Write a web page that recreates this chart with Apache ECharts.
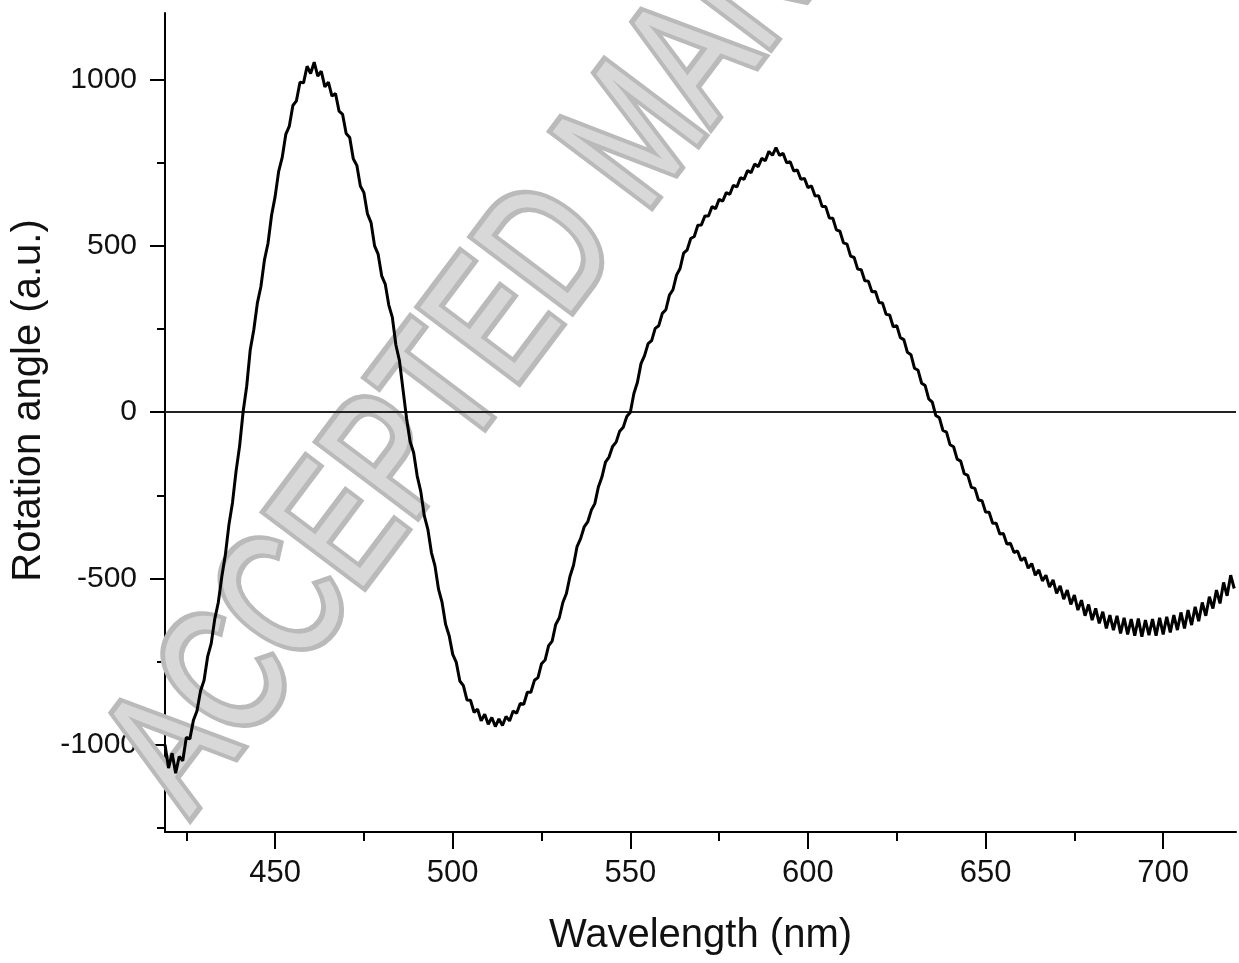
<!DOCTYPE html>
<html>
<head>
<meta charset="utf-8">
<script src="https://cdn.jsdelivr.net/npm/echarts@6/dist/echarts.min.js"></script>
<style>
html,body{margin:0;padding:0;background:#fff;}
#chart{width:1239px;height:963px;}
</style>
</head>
<body>
<div id="chart"></div>
<script>
// Wavelength (nm)
const wavelength = [
419,420,421,422,423,424,425,426,427,428,429,430,431,432,433,434,435,436,437,438,439,440,
441,442,443,444,445,446,447,448,449,450,451,452,453,454,455,456,457,458,459,460,
461,462,463,464,465,466,467,468,469,470,471,472,473,474,475,476,477,478,479,480,
481,482,483,484,485,486,487,488,489,490,491,492,493,494,495,496,497,498,499,500,
501,502,503,504,505,506,507,508,509,510,511,512,513,514,515,516,517,518,519,520,
521,522,523,524,525,526,527,528,529,530,531,532,533,534,535,536,537,538,539,540,
541,542,543,544,545,546,547,548,549,550,551,552,553,554,555,556,557,558,559,560,
561,562,563,564,565,566,567,568,569,570,571,572,573,574,575,576,577,578,579,580,
581,582,583,584,585,586,587,588,589,590,591,592,593,594,595,596,597,598,599,600,
601,602,603,604,605,606,607,608,609,610,611,612,613,614,615,616,617,618,619,620,
621,622,623,624,625,626,627,628,629,630,631,632,633,634,635,636,637,638,639,640,
641,642,643,644,645,646,647,648,649,650,651,652,653,654,655,656,657,658,659,660,
661,662,663,664,665,666,667,668,669,670,671,672,673,674,675,676,677,678,679,680,
681,682,683,684,685,686,687,688,689,690,691,692,693,694,695,696,697,698,699,700,
701,702,703,704,705,706,707,708,709,710,711,712,713,714,715,716,717,718,719,720
];
const rotation = [
-1000,-1070,-1025,-1085,-1035,-1048,-978,-982,-926,-898,-838,-806,-735,-696,-622,-572,-494,-428,-338,-272,-178,-102,
2,78,188,248,328,378,458,508,592,648,724,766,835,860,922,936,992,990,1040,1018,
1052,1010,1025,978,992,950,958,905,895,838,826,762,742,680,660,596,570,500,475,410,
385,322,285,202,155,68,-18,-88,-122,-192,-238,-312,-352,-422,-462,-532,-572,-638,-672,-728,
-752,-808,-822,-865,-866,-902,-893,-928,-908,-938,-918,-945,-922,-942,-915,-928,-898,-905,-876,-878,
-842,-842,-806,-798,-756,-745,-702,-688,-638,-618,-572,-545,-494,-460,-404,-380,-345,-330,-295,-275,
-225,-195,-150,-135,-103,-90,-57,-45,-13,0,56,90,146,170,206,215,252,260,297,308,
352,368,412,432,478,488,522,528,562,563,590,590,618,612,640,634,660,655,682,677,
705,700,726,720,746,738,763,756,784,772,795,772,778,750,753,725,728,700,703,675,
680,650,651,618,618,584,583,548,544,509,505,469,465,430,428,395,394,362,363,330,
328,294,292,257,260,224,218,180,173,132,126,87,80,40,30,-10,-17,-55,-60,-98,
-104,-141,-147,-185,-190,-226,-229,-264,-266,-300,-301,-334,-334,-366,-365,-396,-394,-422,-417,-446,
-437,-469,-455,-490,-474,-507,-490,-526,-504,-545,-522,-562,-535,-578,-550,-595,-565,-612,-578,-625,
-590,-635,-600,-650,-610,-655,-612,-665,-618,-668,-622,-672,-620,-675,-625,-670,-622,-672,-618,-668,
-615,-662,-610,-655,-602,-650,-595,-640,-585,-628,-572,-612,-555,-590,-535,-575,-512,-552,-490,-530
];
const xMajorTicks = [450, 500, 550, 600, 650, 700];
const xMinorTicks = [425, 475, 525, 575, 625, 675];
const yMajorTicks = [-1000, -500, 0, 500, 1000];
const yMinorTicks = [-1250, -750, -250, 250, 750];
const xTitle = 'Wavelength (nm)';
const yTitle = 'Rotation angle (a.u.)';
const watermark = 'ACCEPTED MANUSCRIPT';

const FONT = "'Liberation Sans', Arial, Helvetica, sans-serif";
const X_MIN = 419, X_MAX = 720.5, Y_MIN = -1262, Y_MAX = 1200;

const chart = echarts.init(document.getElementById('chart'), null, {renderer: 'canvas'});
const axisLineStyle = {color: '#000', width: 2};
const plain = v => String(v);

const option = {
  backgroundColor: '#fff',
  animation: false,
  grid: {left: 165, right: 3, top: 13, bottom: 131, containLabel: false, outerBoundsMode: 'none'},
  xAxis: [{
    type: 'value', min: X_MIN, max: X_MAX,
    position: 'bottom',
    name: xTitle, nameLocation: 'middle', nameGap: 84,
    nameTextStyle: {fontFamily: FONT, fontSize: 40, color: '#111'},
    axisLine: {show: true, onZero: false, lineStyle: axisLineStyle},
    axisTick: {show: true, inside: false, length: 17, customValues: xMajorTicks, lineStyle: axisLineStyle},
    axisLabel: {show: true, customValues: xMajorTicks, formatter: plain, margin: 26, fontFamily: FONT, fontSize: 31, color: '#111'},
    splitLine: {show: false}
  }, {
    type: 'value', min: X_MIN, max: X_MAX,
    position: 'bottom',
    axisLine: {show: false, onZero: false},
    axisTick: {show: true, inside: false, length: 9, customValues: xMinorTicks, lineStyle: axisLineStyle},
    axisLabel: {show: false},
    splitLine: {show: false}
  }],
  yAxis: [{
    type: 'value', min: Y_MIN, max: Y_MAX,
    position: 'left',
    name: yTitle, nameLocation: 'middle', nameGap: 108,
    nameTextStyle: {fontFamily: FONT, fontSize: 40, color: '#111', padding: [0, 0, 0, 44]},
    axisLine: {show: true, onZero: false, lineStyle: axisLineStyle},
    axisTick: {show: true, inside: false, length: 15, customValues: yMajorTicks, lineStyle: axisLineStyle},
    axisLabel: {show: true, customValues: yMajorTicks, formatter: plain, margin: 28, fontFamily: FONT, fontSize: 30, color: '#111'},
    splitLine: {show: false}
  }, {
    type: 'value', min: Y_MIN, max: Y_MAX,
    position: 'left',
    axisLine: {show: false, onZero: false},
    axisTick: {show: true, inside: false, length: 8, customValues: yMinorTicks, lineStyle: axisLineStyle},
    axisLabel: {show: false},
    splitLine: {show: false}
  }],
  graphic: [{
    type: 'text',
    z: 1,
    x: 150, y: 788,
    rotation: 53 * Math.PI / 180,
    scaleX: 1, scaleY: 1.35,
    silent: true,
    style: {
      text: watermark,
      fontFamily: FONT,
      fontSize: 132,
      fill: '#d8d8d8',
      stroke: '#bababa',
      lineWidth: 8,
      align: 'left', verticalAlign: 'middle',
      textAlign: 'left', textVerticalAlign: 'middle'
    }
  }],
  series: [{
    type: 'line',
    xAxisIndex: 0, yAxisIndex: 0,
    data: wavelength.map((w, i) => [w, rotation[i]]),
    showSymbol: false,
    symbol: 'none',
    smooth: false,
    z: 5,
    lineStyle: {color: '#000', width: 3},
    markLine: {
      silent: true,
      symbol: ['none', 'none'],
      label: {show: false},
      lineStyle: {color: '#222', width: 2, type: 'solid'},
      data: [{yAxis: 0}]
    }
  }]
};
chart.setOption(option);
</script>
</body>
</html>
